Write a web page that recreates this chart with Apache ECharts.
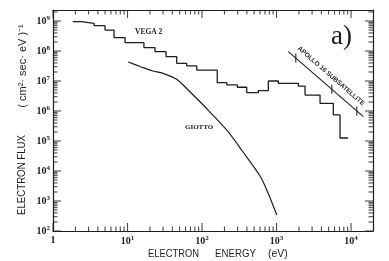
<!DOCTYPE html>
<html><head><meta charset="utf-8">
<script src="https://cdn.jsdelivr.net/npm/echarts@6/dist/echarts.min.js"></script>
<style>html,body{margin:0;padding:0;background:#fff}#c{width:389px;height:261px}</style>
</head><body><div id="c"></div>
<script>
// ---- axis ticks ----
const xTickValues = [1, 10, 100, 1000, 10000];
const xTickLabels = ['1', '10^1', '10^2', '10^3', '10^4'];
const yTickValues = [1e2, 1e3, 1e4, 1e5, 1e6, 1e7, 1e8, 1e9];
const yTickLabels = ['10^2', '10^3', '10^4', '10^5', '10^6', '10^7', '10^8', '10^9'];
const X_MIN = 1, X_MAX = 1.97e4, Y_MIN = 1e2, Y_MAX = 2.33e9;

// ---- VEGA 2 histogram: bin edges (eV) and flux per bin ----
const vegaEdges = [1.84, 2.43, 3.55, 4.99, 6.59, 9.26, 16.6, 23.4, 32.9, 45.7, 62.3, 84.9, 160, 215, 298, 398, 570, 776, 1057, 1963, 2414, 3837, 5786, 7118, 9120];
const vegaFlux = [9.6e8, 8.4e8, 7.0e8, 5.0e8, 2.8e8, 1.9e8, 1.3e8, 9.5e7, 6.5e7, 3.9e7, 3.2e7, 2.3e7, 8.8e6, 7.4e6, 6.2e6, 4.1e6, 4.8e6, 1.0e7, 8.4e6, 6.8e6, 3.4e6, 1.8e6, 7.4e5, 1.26e5];

// ---- GIOTTO ----
const giottoEnergy = [10.2, 15, 21.3, 30, 45.7, 65, 110, 215, 355, 601, 769, 1007];
const giottoFlux = [4.3e7, 3.0e7, 2.2e7, 1.8e7, 1.14e7, 5.0e6, 1.36e6, 2.3e5, 4.3e4, 6.8e3, 1.85e3, 340];

// ---- APOLLO 16 SUBSATELLITE ----
const apolloEnergy = [1440, 14620];
const apolloFlux = [9.5e7, 6.46e5];
const apolloMarkEnergy = [1811, 5509, 11930];
const apolloMarkFlux = [5.8e7, 5.3e6, 1.0e6];

const INK = '#1e1e1e';

function sup(label) {
  const p = label.split('^');
  return p.length > 1 ? '{b|' + p[0] + '}{s|' + p[1] + '}' : '{b|' + p[0] + '}';
}
function fmt(values, labels) {
  return function (v) {
    for (let i = 0; i < values.length; i++) {
      if (Math.abs(Math.log10(v) - Math.log10(values[i])) < 1e-6) return sup(labels[i]);
    }
    return '';
  };
}
function labelRich() {
  return {
    b: { fontFamily: 'Liberation Serif', fontSize: 10, fontWeight: 'bold', color: INK },
    s: { fontFamily: 'Liberation Serif', fontSize: 7, fontWeight: 'bold', color: INK, padding: [0, 0, 6, 0] }
  };
}

function minorValues(lo, hi) {
  const out = [];
  for (let e = Math.floor(Math.log10(lo)); e <= Math.ceil(Math.log10(hi)); e++) {
    for (let m = 2; m <= 9; m++) {
      const v = m * Math.pow(10, e);
      if (v > lo && v < hi) out.push(v);
    }
  }
  return out;
}
const xMinor = minorValues(X_MIN, X_MAX);
const yMinor = minorValues(Y_MIN, Y_MAX);

const vegaData = vegaFlux.map((f, i) => [vegaEdges[i], f]);
vegaData.push([vegaEdges[vegaEdges.length - 1], vegaFlux[vegaFlux.length - 1]]);

function axisLine() { return { show: true, lineStyle: { color: INK, width: 1.2 } }; }

// tick marks as tiny rect symbols sitting on the frame, pointing inward
function tickSeries(data, w, h, off) {
  return { type: 'scatter', data: data, symbol: 'rect', symbolSize: [w, h], symbolOffset: off,
    clip: false, silent: true, z: 6, itemStyle: { color: INK }, emphasis: { disabled: true } };
}
const MAJ = 8, MIN = 4.5, TW = 1.1;

const chart = echarts.init(document.getElementById('c'));
chart.setOption({
  animation: false,
  backgroundColor: '#fff',
  grid: { left: 53, right: 16, top: 10, bottom: 30, containLabel: false, outerBoundsMode: 'none' },
  xAxis: [
    { type: 'log', logBase: 10, min: X_MIN, max: X_MAX, position: 'bottom', axisLine: axisLine(), axisTick: { show: false },
      splitLine: { show: false }, minorTick: { show: false },
      axisLabel: { margin: 4, formatter: fmt(xTickValues, xTickLabels), rich: labelRich(), showMaxLabel: false } },
    { type: 'log', logBase: 10, min: X_MIN, max: X_MAX, position: 'top', axisLine: axisLine(), axisTick: { show: false },
      splitLine: { show: false }, axisLabel: { show: false } }
  ],
  yAxis: [
    { type: 'log', logBase: 10, min: Y_MIN, max: Y_MAX, position: 'left', axisLine: axisLine(), axisTick: { show: false },
      splitLine: { show: false }, minorTick: { show: false },
      axisLabel: { margin: 3, formatter: fmt(yTickValues, yTickLabels), rich: labelRich(), showMaxLabel: false } },
    { type: 'log', logBase: 10, min: Y_MIN, max: Y_MAX, position: 'right', axisLine: axisLine(), axisTick: { show: false },
      splitLine: { show: false }, axisLabel: { show: false } }
  ],
  series: [
    { type: 'line', name: 'VEGA 2', data: vegaData, step: 'end', symbol: 'none',
      lineStyle: { color: INK, width: 1.3 } },
    { type: 'line', name: 'GIOTTO', data: giottoEnergy.map((e, i) => [e, giottoFlux[i]]), smooth: 0.3, symbol: 'none',
      lineStyle: { color: INK, width: 1.2 } },
    { type: 'line', name: 'APOLLO', data: apolloEnergy.map((e, i) => [e, apolloFlux[i]]), symbol: 'none',
      lineStyle: { color: INK, width: 1.1 } },
    { type: 'scatter', data: apolloMarkEnergy.map((e, i) => [e, apolloMarkFlux[i]]), symbol: 'rect',
      symbolSize: [1.3, 9], itemStyle: { color: INK } },
    // bottom / top ticks
    tickSeries(xTickValues.map(v => [v, Y_MIN]), TW, MAJ, [0, -MAJ / 2]),
    tickSeries(xMinor.map(v => [v, Y_MIN]), TW, MIN, [0, -MIN / 2]),
    tickSeries(xTickValues.map(v => [v, Y_MAX]), TW, MAJ, [0, MAJ / 2]),
    tickSeries(xMinor.map(v => [v, Y_MAX]), TW, MIN, [0, MIN / 2]),
    // left / right ticks
    tickSeries(yTickValues.map(v => [X_MIN, v]), MAJ, TW, [MAJ / 2, 0]),
    tickSeries(yMinor.map(v => [X_MIN, v]), MIN, TW, [MIN / 2, 0]),
    tickSeries(yTickValues.map(v => [X_MAX, v]), MAJ, TW, [-MAJ / 2, 0]),
    tickSeries(yMinor.map(v => [X_MAX, v]), MIN, TW, [-MIN / 2, 0])
  ],
  graphic: [
    { type: 'text', x: 135, y: 32, style: { text: 'VEGA 2', fontFamily: 'Liberation Serif', fontWeight: 'bold', fontSize: 7.5, fill: INK, verticalAlign: 'middle' } },
    { type: 'text', x: 185, y: 127, style: { text: 'GIOTTO', fontFamily: 'Liberation Serif', fontWeight: 'bold', fontSize: 7, fill: INK, verticalAlign: 'middle' } },
    { type: 'text', x: 331, y: 37, style: { text: 'a)', fontFamily: 'Liberation Serif', fontSize: 27, fill: INK, verticalAlign: 'middle' } },
    { type: 'text', x: 331, y: 76, rotation: -41 * Math.PI / 180,
      style: { text: 'APOLLO 16 SUBSATELLITE', fontFamily: 'Liberation Sans', fontWeight: 'bold', fontSize: 6.5, fill: INK, align: 'center', verticalAlign: 'middle' } },
    { type: 'text', x: 148, y: 254, scaleX: 0.85, style: { text: 'ELECTRON', fontFamily: 'Liberation Sans', fontSize: 11, fill: INK, verticalAlign: 'middle' } },
    { type: 'text', x: 215, y: 254, scaleX: 0.88, style: { text: 'ENERGY', fontFamily: 'Liberation Sans', fontSize: 11, fill: INK, verticalAlign: 'middle' } },
    { type: 'text', x: 268, y: 254, scaleX: 0.95, style: { text: '(eV)', fontFamily: 'Liberation Sans', fontSize: 11, fill: INK, verticalAlign: 'middle' } },
    { type: 'text', x: 21.5, y: 175, rotation: Math.PI / 2, scaleX: 0.88,
      style: { text: 'ELECTRON FLUX', fontFamily: 'Liberation Sans', fontSize: 11, fill: INK, align: 'center', verticalAlign: 'middle' } },
    { type: 'text', x: 23, y: 66, rotation: Math.PI / 2,
      style: { text: '( cm²· sec· eV )⁻¹', fontFamily: 'Liberation Sans', fontSize: 11, fill: INK, align: 'center', verticalAlign: 'middle' } }
  ]
});
</script>
</body></html>
